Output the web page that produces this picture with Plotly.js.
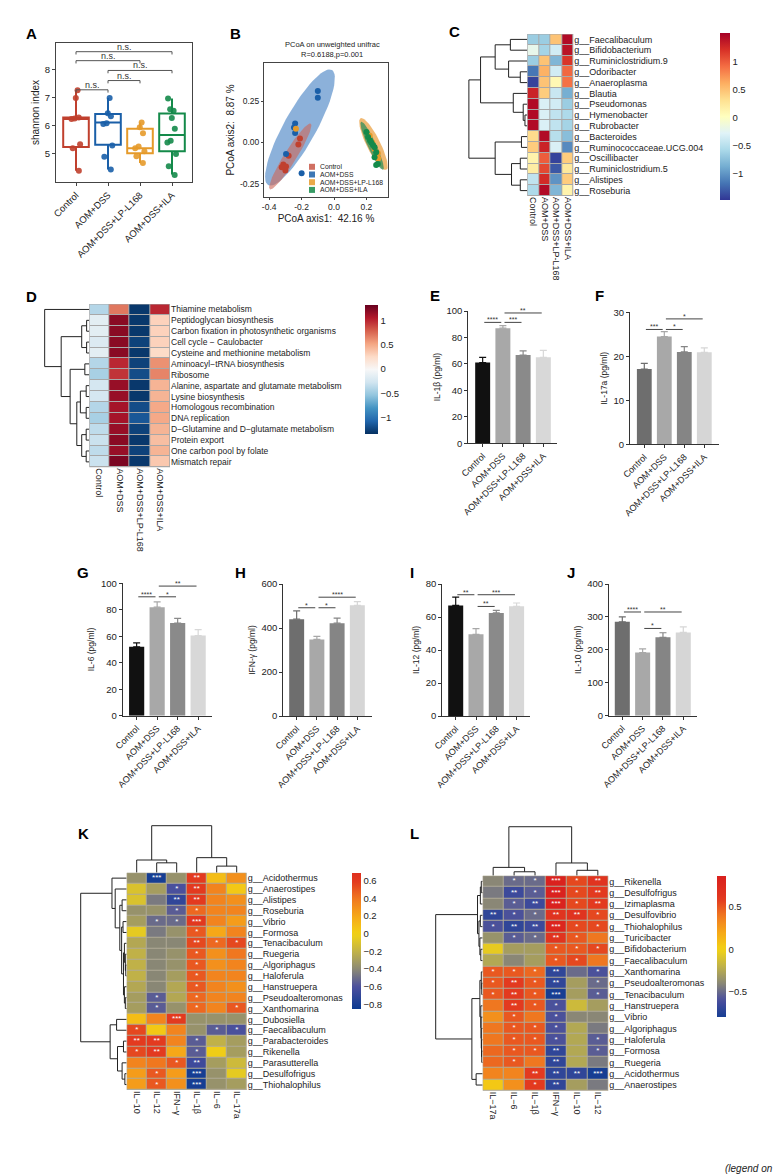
<!DOCTYPE html>
<html><head><meta charset="utf-8">
<script src="https://cdn.plot.ly/plotly-3.0.1.min.js"></script>
<style>html,body{margin:0;padding:0;background:#fff}#chart{width:778px;height:1175px}</style>
</head><body><div id="chart"></div>
<script>
const W=778,H=1175;
const FONT='"Liberation Sans", Arial, sans-serif';

// ================= DATA =================
const groups=['Control','AOM+DSS','AOM+DSS+LP-L168','AOM+DSS+ILA'];

// A: shannon index
const shannonQ1=[5.25,5.33,5.03,5.1];
const shannonMedian=[6.25,6.12,5.2,5.68];
const shannonQ3=[6.3,6.43,5.9,6.44];
const shannonLow=[4.4,4.45,4.68,4.27];
const shannonHigh=[7.27,7.0,6.12,6.98];
const shannonCtrl=[7.27,7.0,6.3,6.27,6.25,5.35,5.2,4.4];
const shannonDss=[7.0,6.45,6.35,6.1,6.07,5.3,4.9,4.45];
const shannonLp=[6.12,5.95,5.74,5.27,5.2,5.1,4.92,4.68];
const shannonIla=[6.98,6.6,6.54,6.28,5.9,5.47,5.41,5.0,4.56,4.25];
const shannonTests=[[0,3,8.65,'n.s.'],[0,2,8.33,'n.s.'],[1,3,7.98,'n.s.'],[1,2,7.62,'n.s.'],[0,1,7.29,'n.s.']];

// B: PCoA
const pcoaCtrlX=[-0.21,-0.22,-0.28,-0.313,-0.296,-0.30,-0.323];
const pcoaCtrlY=[0.023,-0.012,-0.08,-0.134,-0.146,-0.17,-0.15];
const pcoaDssX=[-0.10,-0.10,-0.24,-0.247,-0.24,-0.296,-0.20];
const pcoaDssY=[0.31,0.27,0.114,0.09,0.057,-0.07,-0.187];
const pcoaLpX=[-0.235,0.27,0.235,0.273,0.22,0.25];
const pcoaLpY=[0.083,-0.065,0.0,-0.097,0.04,-0.04];
const pcoaIlaX=[0.2,0.21,0.222,0.23,0.24,0.25,0.26,0.25,0.27,0.26];
const pcoaIlaY=[0.063,0.033,0.012,0.0,-0.015,-0.03,-0.06,-0.09,-0.13,-0.136];
// ellipse parameters: [centre x, centre y, semi-major, semi-minor, angle deg]
const ellDss=[-0.21,0.09,0.40,0.10,60.5];
const ellCtrl=[-0.27,-0.085,0.235,0.038,57.5];
const ellLp=[0.243,-0.01,0.175,0.042,-63];
const ellIla=[0.235,-0.02,0.16,0.026,-65];

// C: genus heatmap
const cRows=['g__Faecalibaculum','g__Bifidobacterium','g__Ruminiclostridium.9','g__Odoribacter','g__Anaeroplasma','g__Blautia','g__Pseudomonas','g__Hymenobacter','g__Rubrobacter','g__Bacteroides','g__Ruminococcaceae.UCG.004','g__Oscillibacter','g__Ruminiclostridium.5','g__Alistipes','g__Roseburia'];
const cVals=[
 [-0.65,-0.65,0.5,1.45],[-0.2,-0.6,-0.35,1.4],[-0.65,0.5,-0.8,1.2],[-1.15,0.6,-0.35,0.95],[-1.4,0.5,0.1,0.9],
 [1.3,0.45,-0.4,-0.85],[1.45,-0.3,-0.35,-0.65],[1.45,-0.3,-0.45,-0.55],[1.45,-0.3,-0.45,-0.6],
 [0.35,1.45,-0.5,-0.75],[0.45,1.3,-0.3,-1.05],[0.15,1.0,-1.4,0.45],[0.2,1.1,-1.3,0.25],[-0.45,1.25,-1.0,0.45],[-0.55,1.45,-0.8,0.15]];
const cTree=[[[0,1,0.29],[2,[3,4,0.12],0.32],0.55],[5,[6,[7,8,0.04],0.07],0.24],0.8];
const cTreeFull=[cTree,[[9,10,0.1],[[11,12,0.12],[13,14,0.12],0.27],0.55],1.0];

// D: pathway heatmap
const dRows=['Thiamine metabolism','Peptidoglycan biosynthesis','Carbon fixation in photosynthetic organisms','Cell cycle − Caulobacter','Cysteine and methionine metabolism','Aminoacyl−tRNA biosynthesis','Ribosome','Alanine, aspartate and glutamate metabolism','Lysine biosynthesis','Homologous recombination','DNA replication','D−Glutamine and D−glutamate metabolism','Protein export','One carbon pool by folate','Mismatch repair'];
const dVals=[
 [-0.4,0.7,-1.3,1.0],[-0.15,1.2,-1.3,0.3],[-0.15,1.2,-1.3,0.3],[-0.2,1.2,-1.25,0.3],[-0.15,1.2,-1.3,0.25],
 [-0.4,1.0,-1.25,0.6],[-0.45,0.95,-1.2,0.65],[-0.25,1.15,-1.3,0.45],[-0.25,1.15,-1.3,0.45],[-0.4,1.1,-1.2,0.5],
 [-0.45,1.1,-1.15,0.5],[-0.35,1.15,-1.25,0.45],[-0.3,1.2,-1.3,0.4],[-0.35,1.15,-1.25,0.45],[-0.3,1.25,-1.3,0.35]];
const dTree=[0,[[[1,2,0.06],[3,4,0.06],0.17],[[5,6,0.1],[[[7,8,0.07],[9,10,0.07],0.2],[[11,12,0.07],[13,14,0.07],0.17],0.28],0.43],0.63],1.0];

// E-J: cytokines (mean, SEM)
const il1bMean=[61,87,66.7,65], il1bSem=[4,2,3.1,5.3];
const il17Mean=[17.1,24.5,21,20.9], il17Sem=[1.3,1.1,1.2,1.0];
const il6Mean=[52,82,70,60.5], il6Sem=[3,4,3.5,4.5];
const ifnMean=[440,348,422,503], ifnSem=[38,14,23,17];
const il12Mean=[67,49.5,62.5,66.5], il12Sem=[5,3.5,1.5,2];
const il10Mean=[285,192,238,253], il10Sem=[15,11,14,17];
const il1bTests=[[0,1,91.4,'****'],[1,2,91.4,'***'],[1,3,98.5,'**']];
const il17Tests=[[0,1,26.1,'***'],[1,2,26.1,'*'],[1,3,28.5,'*']];
const il6Tests=[[0,1,89.8,'****'],[1,2,89.8,'*'],[1,3,97.9,'**']];
const ifnTests=[[0,1,492,'*'],[1,2,492,'*'],[1,3,540,'****']];
const il12Tests=[[0,1,73.5,'**'],[1,3,73.5,'***'],[1,2,66.4,'**']];
const il10Tests=[[0,1,315,'****'],[1,3,315,'**'],[1,2,265,'*']];

// K: correlation heatmap
const kCols=['IL−10','IL−12','IFN−γ','IL−1β','IL−6','IL−17a'];
const kRows=['g__Acidothermus','g__Anaerostipes','g__Alistipes','g__Roseburia','g__Vibrio','g__Formosa','g__Tenacibaculum','g__Ruegeria','g__Algoriphagus','g__Haloferula','g__Hanstruepera','g__Pseudoalteromonas','g__Xanthomarina','g__Dubosiella','g__Faecalibaculum','g__Parabacteroides','g__Rikenella','g__Parasutterella','g__Desulfofrigus','g__Thiohalophilus'];
const kVals=[
 [-0.35,-0.8,-0.35,0.6,0.1,0.3],[-0.1,-0.3,-0.6,0.6,0.35,0.05],[-0.1,-0.45,-0.7,0.6,0.35,0.3],[-0.35,-0.35,-0.55,0.45,0.35,0.35],
 [-0.3,-0.5,-0.5,0.62,0.35,0.25],[-0.05,-0.45,-0.35,0.5,0.2,0.35],[-0.25,-0.4,-0.4,0.55,0.45,0.55],[-0.2,-0.4,-0.35,0.5,0.3,0.4],
 [-0.2,-0.4,-0.35,0.5,0.3,0.35],[-0.2,-0.4,-0.3,0.5,0.35,0.35],[-0.25,-0.4,-0.25,0.5,0.35,0.3],[-0.3,-0.55,-0.25,0.45,0.35,0.35],
 [-0.3,-0.55,-0.35,0.45,0.35,0.5],[0.1,0.35,0.6,-0.35,-0.35,-0.35],[0.55,0.05,0.35,-0.35,-0.55,-0.6],[0.6,0.6,0.35,-0.55,-0.2,-0.3],
 [0.55,0.6,0.2,-0.55,0.0,-0.3],[0.35,0.4,0.5,-0.65,-0.3,-0.15],[0.25,0.5,0.25,-0.8,-0.35,-0.05],[0.25,0.5,0.3,-0.8,-0.35,-0.3]];
const kStars=[
 ['','***','','**','',''],['','','*','**','',''],['','','**','**','',''],['','','*','*','',''],['','*','*','***','',''],
 ['','','','*','',''],['','','','**','*','*'],['','','','*','',''],['','','','*','',''],['','','','*','',''],
 ['','','','*','',''],['','*','','*','',''],['','*','','*','','*'],['','','***','','',''],['*','','','','*','*'],
 ['**','**','','*','',''],['*','**','','*','',''],['','','*','**','',''],['','*','','***','',''],['','*','','***','','']];
const kRowTree=[[0,[1,[[2,3,0.1],[[4,5,0.08],[[6,[7,[8,9,0.02],0.03],0.05],[10,[11,12,0.03],0.05],0.07],0.11],0.15],0.25],0.32],
 [[13,14,0.22],[[15,16,0.07],[17,[18,19,0.04],0.1],0.2],0.36],1.0];
const kColTree=[[0,[1,2,0.21],0.27],[3,[4,5,0.14],0.32],1.0];

// L: correlation heatmap
const lCols=['IL−17a','IL−6','IL−1β','IFN−γ','IL−10','IL−12'];
const lRows=['g__Rikenella','g__Desulfofrigus','g__Izimaplasma','g__Desulfovibrio','g__Thiohalophilus','g__Turicibacter','g__Bifidobacterium','g__Faecalibaculum','g__Xanthomarina','g__Pseudoalteromonas','g__Tenacibaculum','g__Hanstruepera','g__Vibrio','g__Algoriphagus','g__Haloferula','g__Formosa','g__Ruegeria','g__Acidothermus','g__Anaerostipes'];
const lVals=[
 [-0.4,-0.5,-0.5,0.85,0.55,0.65],[-0.45,-0.65,-0.55,0.85,0.55,0.6],[-0.4,-0.55,-0.65,0.85,0.55,0.6],[-0.7,-0.6,-0.5,0.65,0.65,0.55],
 [-0.6,-0.7,-0.65,0.8,0.55,0.55],[-0.35,-0.55,-0.5,0.65,0.5,0.4],[-0.05,-0.3,-0.3,0.5,0.5,0.55],[-0.25,-0.4,-0.3,0.5,0.55,0.4],
 [0.5,0.5,0.45,-0.7,-0.5,-0.6],[0.5,0.6,0.5,-0.7,-0.3,-0.5],[0.5,0.6,0.5,-0.8,-0.3,-0.55],[0.4,0.6,0.5,-0.6,-0.15,-0.3],
 [0.3,0.5,0.4,-0.6,-0.4,-0.4],[0.4,0.5,0.5,-0.6,-0.25,-0.45],[0.4,0.5,0.5,-0.6,-0.25,-0.55],[0.45,0.5,0.5,-0.7,-0.25,-0.55],
 [0.45,0.5,0.4,-0.7,-0.25,-0.45],[0.35,0.35,0.6,-0.7,-0.7,-0.8],[0.05,0.3,0.6,-0.7,-0.3,-0.45]];
const lStars=[
 ['','*','*','***','*','**'],['','**','*','***','*','**'],['','*','**','***','*','**'],['**','*','*','**','**','*'],
 ['*','**','**','***','*','*'],['','*','*','**','*',''],['','','','*','*','*'],['','','','*','*',''],
 ['*','*','*','**','','*'],['*','**','*','**','','*'],['*','**','*','***','','*'],['','**','*','*','',''],
 ['','*','','*','',''],['','*','*','*','',''],['','*','*','*','','*'],['','*','*','**','','*'],
 ['','*','','**','',''],['','','**','**','**','***'],['','','*','**','','']];
const lRowTree=[[[[0,1,0.03],2,0.05],[[3,4,0.05],[5,[6,7,0.04],0.06],0.08],0.11],
 [[[8,[9,10,0.02],0.03],[11,[12,[13,[14,[15,16,0.02],0.025],0.03],0.035],0.04],0.06],[17,18,0.14],0.23],1.0];
const lColTree=[[0,[1,2,0.08],0.17],[3,[4,5,0.11],0.26],1.0];

// ================= BUILD =================
const traces=[];
const layout={width:W,height:H,margin:{l:0,r:0,t:0,b:0},paper_bgcolor:'#fff',plot_bgcolor:'rgba(0,0,0,0)',
  showlegend:false,hovermode:false,barmode:'overlay',boxmode:'overlay',
  font:{family:FONT,size:9,color:'#222'},shapes:[],annotations:[]};
const ax=n=>n===1?'':String(n);
const xd=(a,b)=>[a/W,b/W];
const yd=(t,b)=>[1-b/H,1-t/H];
const ann=(o)=>layout.annotations.push(Object.assign({showarrow:false,font:{family:FONT,size:9,color:'#222'}},o));

// panel letters
[['A',31.7,33.3],['B',235,33.3],['C',455,31.7],['D',31.7,296.7],['E',435,296],['F',599,296],['G',82.7,572.7],['H',240.7,572.7],['I',411.7,572.7],['J',570.7,572.7],['K',83.3,833.3],['L',414,833.3]]
 .forEach(p=>ann({text:'<b>'+p[0]+'</b>',x:p[1]/W,y:1-p[2]/H,xref:'paper',yref:'paper',xanchor:'center',yanchor:'middle',font:{family:FONT,size:15,color:'#000'}}));

// ---- A ----
const aColors=['#c0402e','#1a5fa8','#e59a2a','#148a4a'];
const shannonPts=[shannonCtrl,shannonDss,shannonLp,shannonIla];
layout.xaxis={domain:xd(56,192),range:[-0.625,3.625],tickvals:[0,1,2,3],ticktext:groups,tickangle:-45,showline:true,mirror:true,linecolor:'#444',linewidth:1,ticks:'outside',ticklen:3,tickcolor:'#444',showgrid:false,zeroline:false,tickfont:{size:9.5,color:'#222'},anchor:'y'};
layout.yaxis={domain:yd(43,182),range:[4.0,8.96],tickvals:[5,6,7,8],showline:true,mirror:true,linecolor:'#444',linewidth:1,ticks:'outside',ticklen:3,tickcolor:'#444',showgrid:false,zeroline:false,tickfont:{size:9.5,color:'#222'},title:{text:'shannon index',font:{size:10,color:'#222'},standoff:3},anchor:'x'};
groups.forEach((g,i)=>{
  traces.push({type:'box',xaxis:'x',yaxis:'y',x:[i],q1:[shannonQ1[i]],median:[shannonMedian[i]],q3:[shannonQ3[i]],lowerfence:[shannonLow[i]],upperfence:[shannonHigh[i]],width:0.8,line:{color:aColors[i],width:2},fillcolor:'rgba(255,255,255,0)',whiskerwidth:0,boxpoints:false});
  traces.push({type:'box',xaxis:'x',yaxis:'y',x0:i,y:shannonPts[i],boxpoints:'all',jitter:0.45,pointpos:0,width:0.8,line:{width:0,color:'rgba(0,0,0,0)'},fillcolor:'rgba(0,0,0,0)',marker:{color:aColors[i],size:6,opacity:0.9}});
});
shannonTests.forEach(t=>{
  const [i,j,y,l]=t, d=0.1;
  layout.shapes.push({type:'path',xref:'x',yref:'y',path:`M ${i},${y-d} L ${i},${y} L ${j},${y} L ${j},${y-d}`,line:{color:'#555',width:1}});
  ann({text:l,x:(i+j)/2,y:y,xref:'x',yref:'y',xanchor:'center',yanchor:'bottom',yshift:-2,font:{family:FONT,size:9,color:'#333'}});
});

// ---- B ----
layout.xaxis2={domain:xd(264,388),range:[-0.432,0.333],tickvals:[-0.4,-0.2,0,0.2],ticktext:['-0.4','-0.2','0.0','0.2'],showline:true,mirror:true,linecolor:'#444',linewidth:1,ticks:'outside',ticklen:2,tickcolor:'#444',showgrid:false,zeroline:false,tickfont:{size:8.5,color:'#222'},title:{text:'PCoA axis1:  42.16 %',font:{size:10,color:'#222'},standoff:3},anchor:'y2'};
layout.yaxis2={domain:yd(63,197),range:[-0.33,0.48],tickvals:[-0.25,0,0.25],ticktext:['-0.25','0.00','0.25'],showline:true,mirror:true,linecolor:'#444',linewidth:1,ticks:'outside',ticklen:2,tickcolor:'#444',showgrid:false,zeroline:false,tickfont:{size:8.5,color:'#222'},title:{text:'PCoA axis2:  8.87 %',font:{size:10,color:'#222'},standoff:3},anchor:'x2'};
function ellipse(p){
  const [cx,cy,a,b,ang]=p, r=ang*Math.PI/180, xs=[], ys=[];
  for(let k=0;k<=72;k++){const t=k/72*2*Math.PI;const ex=a*Math.cos(t),ey=b*Math.sin(t);xs.push(cx+ex*Math.cos(r)-ey*Math.sin(r));ys.push(cy+ex*Math.sin(r)+ey*Math.cos(r));}
  return {xs,ys};
}
[[ellDss,'rgba(85,140,200,0.68)'],[ellCtrl,'rgba(205,105,90,0.62)'],[ellLp,'rgba(236,168,80,0.8)'],[ellIla,'rgba(40,140,90,0.72)']].forEach(e=>{
  const p=ellipse(e[0]);
  traces.push({type:'scatter',xaxis:'x2',yaxis:'y2',x:p.xs,y:p.ys,mode:'lines',fill:'toself',fillcolor:e[1],line:{width:0,color:e[1]}});
});
[[pcoaCtrlX,pcoaCtrlY,aColors[0]],[pcoaDssX,pcoaDssY,aColors[1]],[pcoaLpX,pcoaLpY,aColors[2]],[pcoaIlaX,pcoaIlaY,aColors[3]]].forEach(s=>{
  traces.push({type:'scatter',xaxis:'x2',yaxis:'y2',x:s[0],y:s[1],mode:'markers',marker:{color:s[2],size:6}});
});
ann({text:'PCoA on unweighted unifrac',x:332/W,y:1-45/H,xref:'paper',yref:'paper',xanchor:'center',yanchor:'middle',font:{family:FONT,size:7.5,color:'#222'}});
ann({text:'R=0.6188,p=0.001',x:332/W,y:1-54.5/H,xref:'paper',yref:'paper',xanchor:'center',yanchor:'middle',font:{family:FONT,size:7.5,color:'#222'}});
const legCols=['rgba(192,64,46,0.75)','rgba(26,95,168,0.85)','rgba(229,154,42,0.85)','rgba(20,138,74,0.85)'];
groups.forEach((g,i)=>{
  const yc=166.8+i*7.7;
  layout.shapes.push({type:'rect',xref:'paper',yref:'paper',x0:309/W,x1:315/W,y0:1-(yc+3)/H,y1:1-(yc-3)/H,fillcolor:legCols[i],line:{width:0}});
  ann({text:g,x:317.5/W,y:1-yc/H,xref:'paper',yref:'paper',xanchor:'left',yanchor:'middle',font:{family:FONT,size:6.8,color:'#222'}});
});

// ---- helpers for heatmaps & dendrograms ----
function dendro(tree){
  const hs=[],ps=[];
  (function rec(n){
    if(typeof n==='number') return {p:n,h:0};
    const a=rec(n[0]), b=rec(n[1]), h=n[2];
    hs.push(a.h,h,h,b.h,null); ps.push(a.p,a.p,b.p,b.p,null);
    return {p:(a.p+b.p)/2,h:h};
  })(tree);
  return {hs,ps};
}
function rowDendro(n,xDom,yDom,tree,nLeaves){
  const d=dendro(tree);
  layout['xaxis'+ax(n)]={domain:xDom,range:[1.015,0],visible:false,anchor:'y'+ax(n)};
  layout['yaxis'+ax(n)]={domain:yDom,range:[nLeaves-0.5,-0.5],visible:false,anchor:'x'+ax(n)};
  traces.push({type:'scatter',xaxis:'x'+ax(n),yaxis:'y'+ax(n),x:d.hs,y:d.ps,mode:'lines',line:{color:'#222',width:1},cliponaxis:false});
}
function colDendro(n,xDom,yDom,tree,nLeaves){
  const d=dendro(tree);
  layout['xaxis'+ax(n)]={domain:xDom,range:[-0.5,nLeaves-0.5],visible:false,anchor:'y'+ax(n)};
  layout['yaxis'+ax(n)]={domain:yDom,range:[0,1.015],visible:false,anchor:'x'+ax(n)};
  traces.push({type:'scatter',xaxis:'x'+ax(n),yaxis:'y'+ax(n),x:d.ps,y:d.hs,mode:'lines',line:{color:'#222',width:1},cliponaxis:false});
}
function heatPanel(o){
  const xa='x'+ax(o.n), ya='y'+ax(o.n);
  layout['xaxis'+ax(o.n)]={domain:o.xDom,range:[-0.5,o.cols.length-0.5],tickvals:o.cols.map((_,i)=>i),ticktext:o.cols,tickangle:90,ticks:'',showgrid:false,zeroline:false,showline:false,tickfont:{size:o.colFont,color:'#222'},anchor:ya};
  layout['yaxis'+ax(o.n)]={domain:o.yDom,range:[o.rows.length-0.5,-0.5],tickvals:o.rows.map((_,i)=>i),ticktext:o.rows,side:'right',ticks:'',showgrid:false,zeroline:false,showline:false,tickfont:{size:o.rowFont,color:'#222'},anchor:xa};
  layout.shapes.push({type:'rect',xref:xa,yref:ya,x0:-0.5,x1:o.cols.length-0.5,y0:-0.5,y1:o.rows.length-0.5,fillcolor:o.gap,line:{width:0},layer:'below'});
  traces.push({type:'heatmap',xaxis:xa,yaxis:ya,z:o.z,x:o.cols.map((_,i)=>i),y:o.rows.map((_,i)=>i),colorscale:o.cs,zmin:o.zmin,zmax:o.zmax,xgap:1,ygap:1,colorbar:o.cb});
  layout.shapes.push({type:'rect',xref:xa,yref:ya,x0:-0.5,x1:o.cols.length-0.5,y0:-0.5,y1:o.rows.length-0.5,fillcolor:'rgba(0,0,0,0)',line:{color:o.gap,width:1},layer:'above'});
  if(o.stars){
    const sx=[],sy=[],st=[];
    o.stars.forEach((r,i)=>r.forEach((s,j)=>{if(s){sx.push(j);sy.push(i);st.push(s);}}));
    traces.push({type:'scatter',xaxis:xa,yaxis:ya,x:sx,y:sy,text:st,mode:'text',textposition:'middle center',textfont:{family:FONT,size:8,color:'#fff'}});
  }
}
function cbar(px,top,bot,thick,vals){
  return {x:px/W,xanchor:'left',y:1-((top+bot)/2)/H,yanchor:'middle',len:bot-top,lenmode:'pixels',thickness:thick,thicknessmode:'pixels',outlinewidth:0,ticks:'',tickvals:vals,ticktext:vals.map(v=>(v<0?'−':'')+String(Math.abs(v))),tickfont:{family:FONT,size:9.5,color:'#222'},xpad:0,ypad:0};
}
function evenScale(cols){return cols.map((c,i)=>[i/(cols.length-1),c]);}
function hexToRgb(h){return [parseInt(h.slice(1,3),16),parseInt(h.slice(3,5),16),parseInt(h.slice(5,7),16)];}
const corrStops=[[-0.85,'#0a3a90'],[-0.6,'#4a4e9e'],[-0.4,'#8a8876'],[-0.2,'#c0b248'],[0,'#f2d214'],[0.2,'#f6a818'],[0.4,'#f07820'],[0.6,'#e2381f'],[0.9,'#d81e1e']];
function corrScale(zmin,zmax){
  const out=[];
  for(let k=0;k<=30;k++){
    const v=zmin+(zmax-zmin)*k/30;
    let a=corrStops[0],b=corrStops[corrStops.length-1];
    for(let s=0;s<corrStops.length-1;s++){if(v>=corrStops[s][0]&&v<=corrStops[s+1][0]){a=corrStops[s];b=corrStops[s+1];break;}}
    const f=b[0]===a[0]?0:Math.min(1,Math.max(0,(v-a[0])/(b[0]-a[0])));
    const ca=hexToRgb(a[1]),cb=hexToRgb(b[1]);
    out.push([k/30,`rgb(${ca.map((c,i)=>Math.round(c+(cb[i]-c)*f)).join(',')})`]);
  }
  return out;
}

// ---- C ----
heatPanel({n:3,xDom:xd(527.3,573.3),yDom:yd(34,196),rows:cRows,cols:groups,z:cVals,
  cs:evenScale(['#313695','#4575b4','#74add1','#abd9e9','#e0f3f8','#ffffbf','#fee090','#fdae61','#f46d43','#d73027','#a50026']),
  zmin:-1.46,zmax:1.52,gap:'#a8a8a8',rowFont:9,colFont:9,cb:cbar(720,32.7,200,10,[-1,-0.5,0,0.5,1])});
rowDendro(4,xd(468,527.3),yd(34,196),cTreeFull,cRows.length);

// ---- D ----
heatPanel({n:5,xDom:xd(89.3,170),yDom:yd(304,467.3),rows:dRows,cols:groups,z:dVals,
  cs:evenScale(['#053061','#2166ac','#4393c3','#92c5de','#d1e5f0','#f7f7f7','#fddbc7','#f4a582','#d6604d','#b2182b','#67001f']),
  zmin:-1.34,zmax:1.32,gap:'#a8a8a8',rowFont:8.5,colFont:9,cb:cbar(365,305,434,13,[-1,-0.5,0,0.5,1])});
rowDendro(6,xd(44,89.3),yd(304,467.3),dTree,dRows.length);

// ---- E-J bar charts ----
const colsBlack=['#111111','#a8a8a8','#8a8a8a','#d8d8d8'];
const colsGrey=['#6e6e6e','#a8a8a8','#858585','#d6d6d6'];
function barPanel(n,xDom,yDom,yRange,xRange,dtick,means,sems,colors,title,tests){
  const xa='x'+ax(n), ya='y'+ax(n);
  layout['xaxis'+ax(n)]={domain:xDom,range:xRange,tickvals:[0,1,2,3],ticktext:groups,tickangle:-45,showline:true,linecolor:'#333',linewidth:1,ticks:'outside',ticklen:3,tickcolor:'#333',showgrid:false,zeroline:false,tickfont:{size:9,color:'#222'},anchor:ya};
  layout['yaxis'+ax(n)]={domain:yDom,range:yRange,dtick:dtick,tick0:0,showline:true,linecolor:'#333',linewidth:1,ticks:'outside',ticklen:3,tickcolor:'#333',showgrid:false,zeroline:false,tickfont:{size:9.5,color:'#222'},title:{text:title,font:{size:8.5,color:'#222'},standoff:4},anchor:xa};
  means.forEach((m,i)=>traces.push({type:'bar',xaxis:xa,yaxis:ya,x:[i],y:[m],width:0.74,marker:{color:colors[i],line:{width:0}},
    error_y:{type:'data',symmetric:false,array:[sems[i]],arrayminus:[0],color:colors[i],thickness:1.2,width:3.5}}));
  tests.forEach(t=>{
    const [i,j,y,l]=t;
    layout.shapes.push({type:'line',xref:xa,yref:ya,x0:i+0.08,x1:j-0.08,y0:y,y1:y,line:{color:'#444',width:1}});
    ann({text:l,x:(i+j)/2,y:y,xref:xa,yref:ya,xanchor:'center',yanchor:'bottom',yshift:-3,font:{family:FONT,size:7,color:'#333'}});
  });
}
barPanel(7,xd(468.3,557.3),yd(311,443.3),[0,100],[-0.71,3.69],20,il1bMean,il1bSem,colsBlack,'IL-1β (pg/ml)',il1bTests);
barPanel(8,xd(630,719.3),yd(312.3,444.3),[0,30],[-0.715,3.75],10,il17Mean,il17Sem,colsGrey,'IL-17a (pg/ml)',il17Tests);
barPanel(9,xd(122.7,211.7),yd(583.3,715.7),[0,100],[-0.68,3.66],20,il6Mean,il6Sem,colsBlack,'IL-6 (pg/ml)',il6Tests);
barPanel(10,xd(283.3,371.7),yd(584,716),[0,600],[-0.66,3.71],200,ifnMean,ifnSem,colsGrey,'IFN-γ (pg/ml)',ifnTests);
barPanel(11,xd(442.3,530),yd(584,716),[0,80],[-0.66,3.66],20,il12Mean,il12Sem,colsBlack,'IL-12 (pg/ml)',il12Tests);
barPanel(12,xd(609,696.7),yd(584,715.7),[0,400],[-0.655,3.66],100,il10Mean,il10Sem,colsGrey,'IL-10 (pg/ml)',il10Tests);

// ---- K ----
heatPanel({n:13,xDom:xd(126.7,246.7),yDom:yd(872.7,1090),rows:kRows,cols:kCols,z:kVals,stars:kStars,
  cs:corrScale(-0.845,0.69),zmin:-0.845,zmax:0.69,gap:'#b0aa96',rowFont:9,colFont:9,
  cb:cbar(352,872.7,1008.3,9,[-0.8,-0.6,-0.4,-0.2,0,0.2,0.4,0.6])});
rowDendro(14,xd(80,126.7),yd(872.7,1090),kRowTree,kRows.length);
colDendro(15,xd(126.7,246.7),yd(825,872.7),kColTree,kCols.length);

// ---- L ----
heatPanel({n:16,xDom:xd(482.7,608.3),yDom:yd(875.7,1090.7),rows:lRows,cols:lCols,z:lVals,stars:lStars,
  cs:corrScale(-0.80,0.87),zmin:-0.80,zmax:0.87,gap:'#b0aa96',rowFont:9,colFont:9,
  cb:cbar(717,876,1016.7,9,[-0.5,0,0.5])});
rowDendro(17,xd(435,482.7),yd(875.7,1090.7),lRowTree,lRows.length);
colDendro(18,xd(482.7,608.3),yd(826,875.7),lColTree,lCols.length);

ann({text:'<i>(legend on</i>',x:775/W,y:1-1168/H,xref:'paper',yref:'paper',xanchor:'right',yanchor:'middle',font:{family:FONT,size:10,color:'#222'}});

Plotly.newPlot('chart',traces,layout,{staticPlot:true,displayModeBar:false});
</script></body></html>
